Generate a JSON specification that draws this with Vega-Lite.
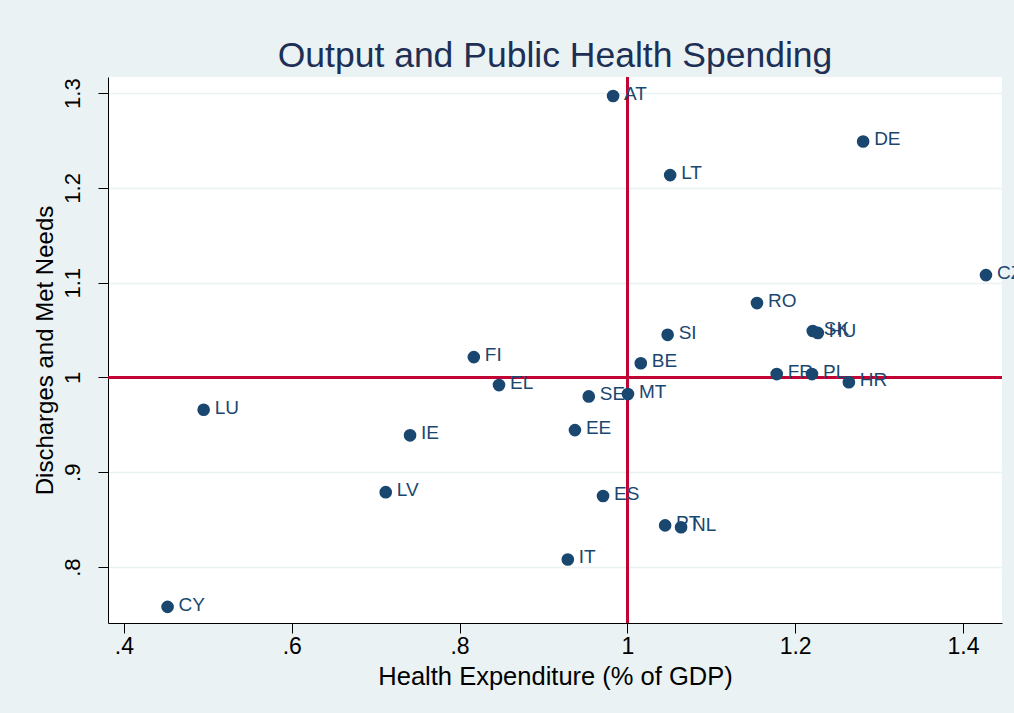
{
  "$schema": "https://vega.github.io/schema/vega-lite/v6.json",
  "width": 894,
  "height": 546,
  "autosize": {"type": "none"},
  "padding": {"left": 108, "top": 77, "right": 12, "bottom": 90},
  "background": "#eaf2f3",
  "title": {
    "text": "Output and Public Health Spending",
    "fontSize": 35.5,
    "font": "Liberation Sans",
    "fontWeight": "normal",
    "color": "#1e2f55",
    "anchor": "middle",
    "frame": "group",
    "baseline": "alphabetic",
    "offset": 9,
    "dy": 35
  },
  "config": {
    "view": {"fill": "white", "stroke": null},
    "font": "Liberation Sans"
  },
  "data": {
    "values": [
      {"country": "AT", "x": 0.983, "y": 1.297},
      {"country": "DE", "x": 1.281, "y": 1.249},
      {"country": "LT", "x": 1.051, "y": 1.2135},
      {"country": "CZ", "x": 1.4274, "y": 1.108},
      {"country": "RO", "x": 1.1545, "y": 1.0785},
      {"country": "SK", "x": 1.221, "y": 1.049},
      {"country": "HU", "x": 1.227, "y": 1.047},
      {"country": "SI", "x": 1.048, "y": 1.045},
      {"country": "FI", "x": 0.817, "y": 1.0215},
      {"country": "BE", "x": 1.016, "y": 1.015},
      {"country": "FR", "x": 1.178, "y": 1.0036},
      {"country": "PL", "x": 1.22, "y": 1.0036},
      {"country": "HR", "x": 1.264, "y": 0.995},
      {"country": "EL", "x": 0.847, "y": 0.992},
      {"country": "MT", "x": 1.0007, "y": 0.9825},
      {"country": "SE", "x": 0.954, "y": 0.98},
      {"country": "LU", "x": 0.495, "y": 0.966},
      {"country": "EE", "x": 0.9375, "y": 0.9445},
      {"country": "IE", "x": 0.741, "y": 0.939},
      {"country": "LV", "x": 0.712, "y": 0.879},
      {"country": "ES", "x": 0.971, "y": 0.875},
      {"country": "PT", "x": 1.045, "y": 0.844},
      {"country": "NL", "x": 1.064, "y": 0.842},
      {"country": "IT", "x": 0.929, "y": 0.808},
      {"country": "CY", "x": 0.452, "y": 0.758}
    ]
  },
  "encoding": {
    "x": {
      "field": "x",
      "type": "quantitative",
      "scale": {"domain": [0.381, 1.4465], "nice": false, "zero": false},
      "axis": {
        "title": "Health Expenditure (% of GDP)",
        "values": [0.4, 0.6, 0.8, 1, 1.2, 1.4],
        "labelExpr": "replace(format(datum.value, '.1~f'), /^0\\./, '.')",
        "grid": false,
        "domainColor": "black",
        "tickColor": "black",
        "tickSize": 10,
        "labelFontSize": 23,
        "labelColor": "black",
        "labelPadding": 2,
        "titleFontSize": 25.5,
        "titleFontWeight": "normal",
        "titleColor": "black",
        "titlePadding": 6
      }
    },
    "y": {
      "field": "y",
      "type": "quantitative",
      "scale": {"domain": [0.741, 1.317], "nice": false, "zero": false},
      "axis": {
        "title": "Discharges and Met Needs",
        "values": [0.8, 0.9, 1, 1.1, 1.2, 1.3],
        "labelExpr": "replace(format(datum.value, '.1~f'), /^0\\./, '.')",
        "grid": true,
        "gridColor": "#eaf2f3",
        "gridWidth": 1.5,
        "domainColor": "black",
        "tickColor": "black",
        "tickSize": 10,
        "labelAngle": -90,
        "labelAlign": "center",
        "labelBaseline": "bottom",
        "labelFontSize": 22,
        "labelColor": "black",
        "labelPadding": 14,
        "titleFontSize": 24,
        "titleFontWeight": "normal",
        "titleColor": "black",
        "titlePadding": 4
      }
    }
  },
  "layer": [
    {
      "mark": {"type": "rule", "color": "#c10534", "strokeWidth": 1.8},
      "encoding": {"x": {"datum": 1}, "y": null}
    },
    {
      "mark": {"type": "rule", "color": "#c10534", "strokeWidth": 1.8},
      "encoding": {"y": {"datum": 1}, "x": null}
    },
    {
      "mark": {"type": "point", "filled": true, "shape": "circle", "size": 160, "color": "#1a476f", "opacity": 1}
    },
    {
      "mark": {"type": "text", "align": "left", "baseline": "middle", "dx": 11, "dy": -2, "fontSize": 19, "color": "#1a476f", "clip": false},
      "encoding": {"text": {"field": "country"}}
    }
  ]
}
